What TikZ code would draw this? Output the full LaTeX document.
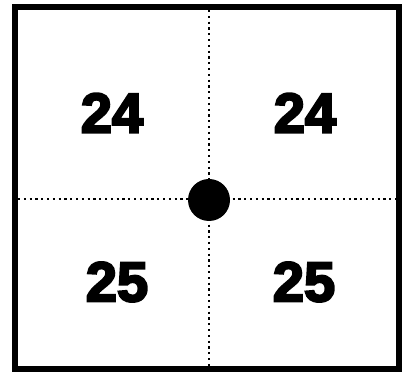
\documentclass[tikz,border=0pt]{standalone}
\usepackage{fontspec}
\newfontfamily\heavy[FakeBold=4]{Liberation Sans Bold}
\begin{document}
\begin{tikzpicture}[x=1pt,y=1pt,
  frame/.style={line width=6pt},
  grid/.style={line width=2.2pt, dash pattern=on 2.2pt off 3.6pt},
  num/.style={font=\heavy\fontsize{56}{56}\selectfont, inner sep=0pt},
  hub/.style={circle, fill=black, minimum size=42pt, inner sep=0pt}]
\useasboundingbox (0,0) rectangle (411,374);
\coordinate (tl) at (15,367);
\coordinate (br) at (399,5);
\draw[frame] (tl) rectangle (br);
\coordinate (top) at (209,364);
\coordinate (bot) at (209,8);
\coordinate (lft) at (18,175);
\coordinate (rgt) at (396,175);
\draw[grid] (top) -- (bot);
\draw[grid] (lft) -- (rgt);
\node[hub] (c) at (209,174) {};
\node[num] (a) at (112,261) {24};
\node[num] (b) at (305,261) {24};
\node[num] (d) at (117,92) {25};
\node[num] (e) at (304,92) {25};
\end{tikzpicture}
\end{document}
